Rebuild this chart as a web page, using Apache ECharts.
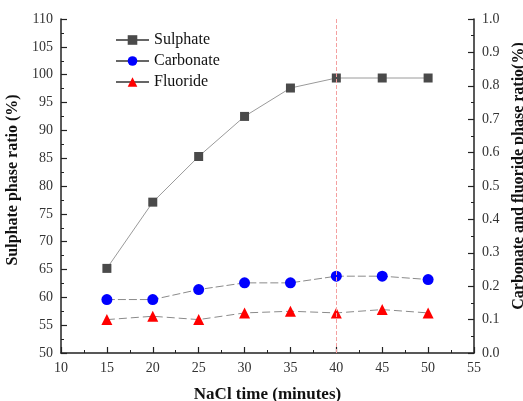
<!DOCTYPE html>
<html>
<head>
<meta charset="utf-8">
<script src="https://cdn.jsdelivr.net/npm/echarts@6/dist/echarts.min.js"></script>
<style>
  html, body { margin: 0; padding: 0; background: #fff; }
  #chart { width: 523px; height: 401px; }
</style>
</head>
<body>
<div id="chart"></div>
<script>
// NaCl time (minutes)
const times = [15, 20, 25, 30, 35, 40, 45, 50]
// phase ratios
const sulphate = [65.2, 77.1, 85.3, 92.5, 97.6, 99.4, 99.4, 99.4]
const carbonate = [0.16, 0.16, 0.19, 0.21, 0.21, 0.23, 0.23, 0.22]
const fluoride = [0.10, 0.11, 0.10, 0.12, 0.125, 0.12, 0.13, 0.12]
const markTime = 40

const font = '"Liberation Serif", "Times New Roman", serif'
const pair = (ys) => times.map((t, i) => [t, ys[i]])

const axisCommon = {
  axisLine: { show: true, lineStyle: { color: '#222', width: 1.5 } },
  axisTick: { show: true, inside: true, length: 6, lineStyle: { color: '#222', width: 1.2 } },
  minorTick: { show: true, splitNumber: 2, length: 3, lineStyle: { color: '#222', width: 1 } },
  splitLine: { show: false },
  axisLabel: { color: '#333', fontFamily: font, fontSize: 14 },
  nameTextStyle: { color: '#111', fontFamily: font, fontSize: 16, fontWeight: 'bold' }
}

const chart = echarts.init(document.getElementById('chart'))
chart.setOption({
  animation: false,
  textStyle: { fontFamily: font },
  grid: { left: 61, right: 49, top: 19, bottom: 48, containLabel: false, outerBoundsMode: 'none' },
  legend: {
    left: 110, top: 27, orient: 'vertical', itemGap: 5,
    itemWidth: 33, itemHeight: 12,
    lineStyle: { type: 'solid', color: '#666' },
    textStyle: { fontFamily: font, fontSize: 16, color: '#111' },
    data: ['Sulphate', 'Carbonate', 'Fluoride']
  },
  xAxis: {
    ...axisCommon,
    type: 'value', min: 10, max: 55, interval: 5,
    name: 'NaCl time (minutes)', nameLocation: 'middle', nameGap: 33,
    nameTextStyle: { ...axisCommon.nameTextStyle, fontSize: 17 }
  },
  yAxis: [
    {
      ...axisCommon,
      type: 'value', min: 50, max: 110, interval: 5,
      name: 'Sulphate phase ratio (%)', nameLocation: 'middle', nameGap: 40,
      nameTextStyle: { ...axisCommon.nameTextStyle, padding: [0, 0, 0, 12] }
    },
    {
      ...axisCommon,
      type: 'value', min: 0, max: 1, interval: 0.1, position: 'right',
      axisLabel: { ...axisCommon.axisLabel, formatter: (v) => v.toFixed(1) },
      name: 'Carbonate and fluoride phase ratio(%)', nameLocation: 'middle', nameGap: 33,
      nameRotate: 90,
      nameTextStyle: { ...axisCommon.nameTextStyle, padding: [0, 0, 0, 20] }
    }
  ],
  series: [
    {
      name: 'Sulphate', type: 'line', yAxisIndex: 0, data: pair(sulphate),
      symbol: 'rect', symbolSize: 9,
      itemStyle: { color: '#4a4a4a' },
      lineStyle: { color: '#9a9a9a', width: 1 },
      markLine: {
        silent: true, symbol: 'none', label: { show: false },
        lineStyle: { color: '#f4a0a0', type: 'dashed', width: 1 },
        data: [{ xAxis: markTime }]
      }
    },
    {
      name: 'Carbonate', type: 'line', yAxisIndex: 1, data: pair(carbonate),
      symbol: 'circle', symbolSize: 11,
      itemStyle: { color: '#0000ff' },
      lineStyle: { color: '#8a8a8a', width: 1, type: [8, 3] }
    },
    {
      name: 'Fluoride', type: 'line', yAxisIndex: 1, data: pair(fluoride),
      symbol: 'triangle', symbolSize: 11,
      itemStyle: { color: '#ff0000' },
      lineStyle: { color: '#8a8a8a', width: 1, type: [8, 4] }
    }
  ]
})
</script>
</body>
</html>
